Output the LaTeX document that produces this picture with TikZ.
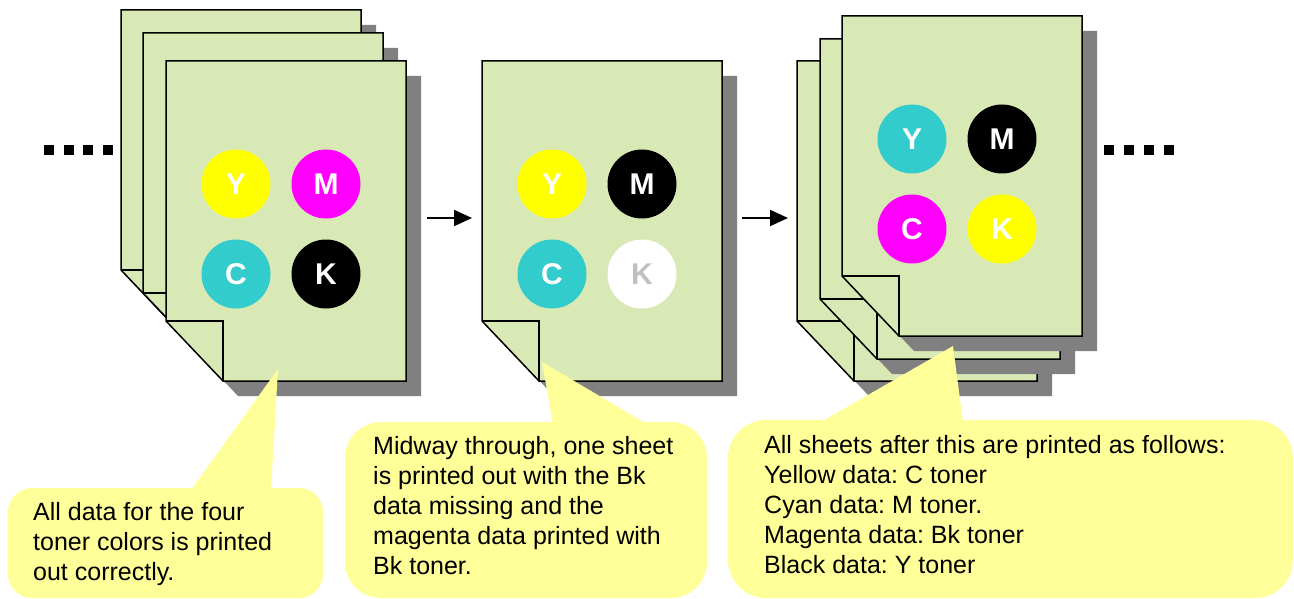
\documentclass[tikz,border=0pt]{standalone}
\usepackage{fontspec}
\setmainfont{Liberation Sans}
\usetikzlibrary{arrows.meta}
\frenchspacing
\definecolor{pagegreen}{HTML}{D8E9B5}
\definecolor{shadowgray}{HTML}{808080}
\definecolor{tcyan}{HTML}{33CCCC}
\definecolor{tmag}{HTML}{FF00FF}
\definecolor{tyel}{HTML}{FFFF00}
\definecolor{callyel}{HTML}{FFFF99}
\definecolor{kgray}{HTML}{C0C0C0}
\tikzset{
  pageedge/.style={draw=black, line width=1.5pt, line join=miter},
  toner/.style={circle, minimum size=69pt, inner sep=0pt, font=\fontsize{30}{30}\selectfont\bfseries, text=white},
  callouttext/.style={anchor=base west, align=left, inner sep=0pt, font=\fontsize{25}{30}\selectfont},
  flowarrow/.style={line width=2pt, -{Triangle[length=18pt,width=16pt]}},
  dotsq/.style={fill=black, minimum size=10pt, inner sep=0pt},
}
\newcommand\sheetpage[2]{%
  \begin{scope}[shift={(#1,#2)}]
    \fill[shadowgray] (15,15) -- (255,15) -- (255,335) -- (72,335) -- (15,275) -- cycle;
    \path[pageedge, fill=pagegreen] (0,0) -- (240,0) -- (240,320) -- (57,320) -- (0,260) -- cycle;
    \draw[pageedge] (0,260) -- (57,260) -- (57,320);
  \end{scope}}
\begin{document}
\begin{tikzpicture}[x=1pt,y=-1pt]
\useasboundingbox (0,0) rectangle (1294,599);
% left stack
\sheetpage{121}{10}
\sheetpage{143}{33}
\sheetpage{166}{61}
\node[toner, fill=tyel] (lY) at (236,184) {Y};
\node[toner, fill=tmag] (lM) at (326,184) {M};
\node[toner, fill=tcyan] (lC) at (236,274) {C};
\node[toner, fill=black] (lK) at (326,274) {K};
% middle sheet
\sheetpage{482}{61}
\node[toner, fill=tyel] (mY) at (552,184) {Y};
\node[toner, fill=black] (mM) at (642,184) {M};
\node[toner, fill=tcyan] (mC) at (552,274) {C};
\node[toner, fill=white, text=kgray] (mK) at (642,274) {K};
% right stack
\sheetpage{797}{61}
\sheetpage{820}{39}
\sheetpage{842}{16}
\node[toner, fill=tcyan] (rY) at (912,139) {Y};
\node[toner, fill=black] (rM) at (1002,139) {M};
\node[toner, fill=tmag] (rC) at (912,229) {C};
\node[toner, fill=tyel] (rK) at (1002,229) {K};
% dots
\node[dotsq] (dl1) at (49,150) {};
\node[dotsq] (dl2) at (69,150) {};
\node[dotsq] (dl3) at (88,150) {};
\node[dotsq] (dl4) at (108,150) {};
\node[dotsq] (dr1) at (1109,150) {};
\node[dotsq] (dr2) at (1129,150) {};
\node[dotsq] (dr3) at (1149,150) {};
\node[dotsq] (dr4) at (1169,150) {};
% arrows
\coordinate (a1s) at (427,218);
\coordinate (a1e) at (472,218);
\coordinate (a2s) at (742,218);
\coordinate (a2e) at (788,218);
\draw[flowarrow] (a1s) -- (a1e);
\draw[flowarrow] (a2s) -- (a2e);
% callouts
\fill[callyel, rounded corners=24pt] (8,488) rectangle (323,598);
\fill[callyel] (191,490) -- (278,369) -- (271,490) -- cycle;
\fill[callyel, rounded corners=36pt] (345,422) rectangle (707,598);
\fill[callyel] (553,424) -- (542,362) -- (647,424) -- cycle;
\fill[callyel, rounded corners=38pt] (728,420) rectangle (1293,598);
\fill[callyel] (821,422) -- (953,346) -- (963,422) -- cycle;
\node[callouttext] (t1) at (33,580) {All data for the four\\toner colors is printed\\out correctly.};
\node[callouttext] (t2) at (373,574) {Midway through, one sheet\\is printed out with the Bk\\data missing and the\\magenta data printed with\\Bk toner.};
\node[callouttext] (t3) at (764,573) {All sheets after this are printed as follows:\\Yellow data: C toner\\Cyan data: M toner.\\Magenta data: Bk toner\\Black data: Y toner};
\end{tikzpicture}
\end{document}
